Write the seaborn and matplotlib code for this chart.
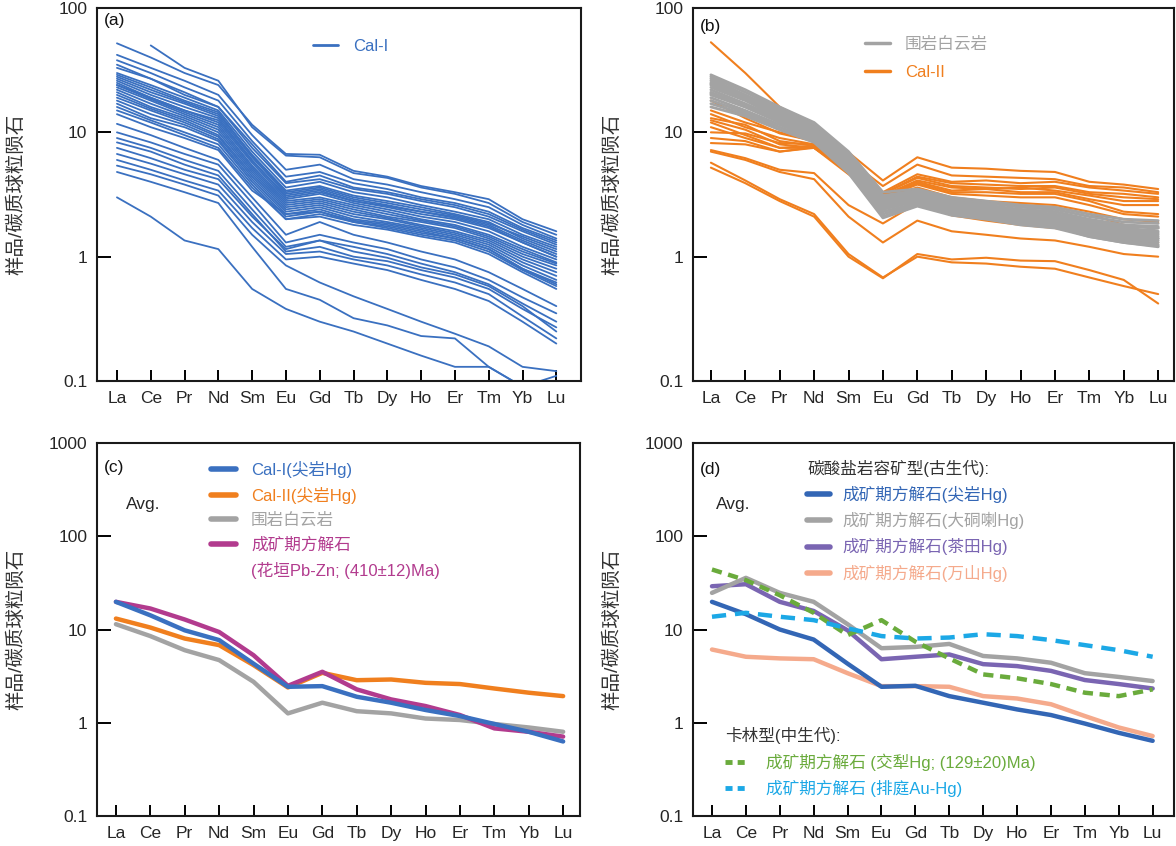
import numpy as np
import pandas as pd
import matplotlib
matplotlib.use("Agg")
import matplotlib.pyplot as plt
import seaborn as sns
from matplotlib.lines import Line2D

sns.set_style("ticks")
plt.rcParams["font.family"] = ["Liberation Sans", "Noto Sans CJK SC", "DejaVu Sans"]
plt.rcParams["axes.unicode_minus"] = False

# ---------------- data ----------------
ree = ["La", "Ce", "Pr", "Nd", "Sm", "Eu", "Gd", "Tb", "Dy", "Ho", "Er", "Tm", "Yb", "Lu"]
nan = np.nan

# (a) Cal-I individual samples
cal1_samples = [
    [52, 40, 30, 24, 11.5, 6.7, 6.6, 4.9, 4.4, 3.7, 3.3, 2.9, 2.0, 1.6],
    [nan, 50, 33, 26, 11, 6.5, 6.3, 4.7, 4.3, 3.6, 3.2, 2.7, 1.9, 1.5],
    [42, 33, 26, 20, 9.5, 5.0, 5.5, 4.2, 3.8, 3.3, 2.9, 2.5, 1.8, 1.4],
    [38, 30, 23, 18, 8.5, 4.4, 4.8, 3.9, 3.5, 3.0, 2.7, 2.3, 1.7, 1.35],
    [33, 27, 21, 16, 7.5, 3.9, 4.2, 3.5, 3.2, 2.8, 2.5, 2.1, 1.6, 1.25],
    [30, 24, 19, 15, 7.0, 3.6, 4.0, 3.3, 3.0, 2.6, 2.3, 2.0, 1.5, 1.2],
    [28, 22, 17.5, 14, 6.6, 3.4, 3.7, 3.1, 2.8, 2.5, 2.2, 1.9, 1.4, 1.1],
    [27, 21, 17, 13.5, 6.3, 3.2, 3.5, 2.9, 2.6, 2.3, 2.1, 1.8, 1.35, 1.05],
    [26, 20, 16, 13, 6.0, 3.0, 3.3, 2.8, 2.5, 2.2, 2.0, 1.7, 1.3, 1.0],
    [25, 19, 15, 12, 5.7, 2.9, 3.2, 2.7, 2.4, 2.1, 1.9, 1.6, 1.2, 0.95],
    [24, 18.5, 14.5, 11.5, 5.4, 2.8, 3.0, 2.6, 2.3, 2.0, 1.8, 1.5, 1.15, 0.9],
    [23, 18, 14, 11, 5.2, 2.7, 2.9, 2.5, 2.2, 1.95, 1.75, 1.45, 1.1, 0.88],
    [22, 17, 13.5, 10.5, 5.0, 2.6, 2.8, 2.4, 2.1, 1.9, 1.7, 1.4, 1.05, 0.85],
    [21, 16, 13, 10, 4.8, 2.5, 2.7, 2.3, 2.05, 1.8, 1.6, 1.35, 1.0, 0.8],
    [20, 15.5, 12.5, 9.5, 4.6, 2.4, 2.6, 2.2, 2.0, 1.75, 1.55, 1.3, 0.95, 0.75],
    [19, 15, 12, 9.2, 4.4, 2.3, 2.5, 2.1, 1.9, 1.7, 1.5, 1.25, 0.9, 0.7],
    [18, 14, 11.5, 8.8, 4.2, 2.2, 2.4, 2.0, 1.85, 1.65, 1.45, 1.2, 0.85, 0.65],
    [17, 13, 11, 8.5, 4.0, 2.1, 2.3, 1.95, 1.8, 1.6, 1.4, 1.15, 0.8, 0.6],
    [16, 12.5, 10, 8, 3.8, 2.0, 2.2, 1.9, 1.7, 1.5, 1.35, 1.1, 0.78, 0.58],
    [15, 12, 9.5, 7.5, 3.6, 2.0, 2.1, 1.8, 1.65, 1.45, 1.3, 1.05, 0.75, 0.55],
    [35, 27, 20, 16, 8.0, 4.0, 4.5, 3.6, 3.3, 2.9, 2.6, 2.2, 1.65, 1.3],
    [29, 23, 18, 14.5, 6.5, 3.3, 3.6, 3.0, 2.7, 2.4, 2.15, 1.85, 1.45, 1.15],
    [24, 19, 15, 12.5, 5.9, 3.1, 3.4, 2.8, 2.55, 2.3, 2.05, 1.75, 1.3, 1.0],
    [14, 11, 9, 7.2, 3.4, 2.2, 2.3, 1.9, 1.75, 1.55, 1.4, 1.15, 0.8, 0.62],
    [11.7, 9.5, 7.5, 6.0, 3.0, 1.5, 1.9, 1.5, 1.3, 1.1, 0.95, 0.75, 0.55, 0.4],
    [10, 8.3, 6.7, 5.5, 2.7, 1.3, 1.5, 1.3, 1.15, 0.95, 0.82, 0.65, 0.47, 0.35],
    [9.0, 7.5, 6.0, 4.9, 2.4, 1.2, 1.35, 1.2, 1.05, 0.88, 0.75, 0.6, 0.42, 0.3],
    [8.3, 7.0, 5.5, 4.5, 2.2, 1.1, 1.2, 1.0, 0.92, 0.78, 0.68, 0.55, 0.38, 0.27],
    [6.7, 5.6, 4.6, 3.8, 1.9, 1.05, 1.1, 0.95, 0.85, 0.72, 0.62, 0.5, 0.33, 0.22],
    [6.0, 5.0, 4.1, 3.4, 1.7, 0.95, 1.0, 0.88, 0.78, 0.65, 0.55, 0.44, 0.3, 0.2],
    [7.5, 6.2, 5.0, 4.2, 2.1, 1.15, 1.35, 1.1, 0.98, 0.82, 0.72, 0.58, 0.4, 0.25],
    [5.4, 4.6, 3.8, 3.1, 1.5, 0.85, 0.62, 0.48, 0.38, 0.3, 0.24, 0.19, 0.13, 0.12],
    [4.8, 4.0, 3.3, 2.7, 1.2, 0.55, 0.45, 0.32, 0.28, 0.23, 0.22, 0.13, 0.09, 0.11],
    [3.0, 2.1, 1.35, 1.15, 0.55, 0.38, 0.3, 0.25, 0.2, 0.16, 0.13, 0.13, 0.09, 0.1],
]

# (b) host dolomite samples
dolomite_samples = [
    [29, 22, 16, 12, 7, 3.3, 3.5, 3.0, 2.8, 2.6, 2.5, 2.2, 2.0, 1.95],
    [28, 21, 15.5, 11.5, 6.7, 3.1, 3.4, 2.9, 2.7, 2.5, 2.4, 2.1, 1.9, 1.85],
    [27, 20, 15, 11, 6.4, 3.0, 3.3, 2.8, 2.6, 2.4, 2.3, 2.0, 1.8, 1.75],
    [26, 19.5, 14.5, 10.8, 6.2, 2.9, 3.2, 2.7, 2.5, 2.3, 2.2, 1.9, 1.75, 1.7],
    [25, 19, 14, 10.5, 6.0, 2.8, 3.1, 2.65, 2.45, 2.25, 2.15, 1.85, 1.7, 1.6],
    [24, 18.5, 13.5, 10.2, 5.8, 2.7, 3.0, 2.6, 2.4, 2.2, 2.1, 1.8, 1.65, 1.55],
    [23, 18, 13, 10, 5.6, 2.6, 2.95, 2.5, 2.35, 2.15, 2.05, 1.75, 1.6, 1.5],
    [22, 17, 12.8, 9.8, 5.5, 2.5, 2.9, 2.45, 2.3, 2.1, 2.0, 1.7, 1.55, 1.45],
    [21, 16.5, 12.5, 9.5, 5.3, 2.45, 2.85, 2.4, 2.25, 2.05, 1.95, 1.65, 1.5, 1.4],
    [20, 16, 12, 9.2, 5.2, 2.4, 2.8, 2.35, 2.2, 2.0, 1.9, 1.6, 1.45, 1.35],
    [19, 15, 11.5, 9.0, 5.0, 2.3, 2.7, 2.3, 2.15, 1.95, 1.85, 1.55, 1.4, 1.3],
    [18, 14.5, 11, 8.8, 4.9, 2.2, 2.65, 2.25, 2.1, 1.9, 1.8, 1.5, 1.35, 1.25],
    [17, 14, 10.5, 8.5, 4.8, 2.1, 2.6, 2.2, 2.05, 1.85, 1.75, 1.45, 1.3, 1.22],
    [16, 13.5, 10.5, 8.3, 4.7, 2.05, 2.55, 2.15, 2.0, 1.8, 1.7, 1.45, 1.3, 1.2],
    [24.5, 19, 14.8, 11, 6.3, 2.75, 3.05, 2.7, 2.55, 2.35, 2.3, 1.95, 1.8, 1.4],
    [20.5, 16, 12.2, 9.6, 5.4, 2.55, 2.9, 2.5, 2.4, 2.2, 2.1, 1.75, 1.55, 1.7],
]

# (b) Cal-II samples
cal2_samples = [
    [53, 30, 16, 11.4, 6.9, 4.1, 6.3, 5.2, 5.1, 4.9, 4.8, 4.0, 3.8, 3.5],
    [18, 13, 9.8, 8.5, 6.0, 3.7, 5.5, 4.5, 4.4, 4.3, 4.2, 3.7, 3.6, 3.3],
    [15, 12, 10, 8.5, 5.5, 3.3, 4.6, 4.0, 4.1, 3.9, 4.0, 3.6, 3.4, 3.2],
    [14, 11, 9.0, 8.0, 5.2, 3.2, 4.4, 3.9, 3.8, 3.7, 3.7, 3.3, 3.2, 3.0],
    [13, 11.5, 8.5, 7.8, 5.0, 3.2, 4.3, 3.7, 3.6, 3.5, 3.6, 3.2, 3.0, 2.9],
    [12.5, 10.5, 8, 7.5, 4.9, 3.1, 4.1, 3.6, 3.5, 3.6, 3.4, 3.1, 2.8, 2.8],
    [12, 9.5, 7.5, 7.5, 4.8, 3.1, 4.0, 3.4, 3.5, 3.3, 3.3, 2.9, 2.6, 2.6],
    [11, 9, 7.5, 7.8, 4.8, 3.0, 3.9, 3.3, 3.3, 3.2, 3.2, 2.8, 2.3, 2.2],
    [10, 9.8, 8.2, 8.0, 4.7, 3.0, 3.8, 3.2, 3.1, 3.0, 3.0, 2.6, 2.2, 2.1],
    [9, 8.5, 7.0, 7.6, 4.8, 3.0, 3.6, 3.0, 2.8, 2.7, 2.6, 2.3, 2.0, 1.9],
    [8.2, 8.0, 7.0, 7.5, 4.6, 2.9, 3.5, 2.9, 2.7, 2.6, 2.5, 2.2, 1.8, 1.7],
    [7.2, 6.2, 5.0, 4.7, 2.6, 1.85, 2.7, 2.15, 1.95, 1.8, 1.7, 1.5, 1.35, 1.3],
    [7.0, 6.0, 4.8, 4.2, 2.1, 1.3, 1.95, 1.6, 1.5, 1.4, 1.35, 1.2, 1.05, 1.0],
    [5.7, 4.1, 2.9, 2.2, 1.05, 0.68, 1.0, 0.9, 0.88, 0.83, 0.8, 0.68, 0.58, 0.50],
    [5.2, 3.9, 2.8, 2.1, 1.0, 0.67, 1.05, 0.95, 0.98, 0.93, 0.92, 0.78, 0.65, 0.42],
]

# (c) averages
avg_cal1 = [19.8, 14.2, 9.8, 7.7, 4.3, 2.43, 2.47, 1.9, 1.64, 1.37, 1.18, 0.97, 0.80, 0.63]
avg_cal2 = [13.1, 10.5, 8.0, 6.8, 4.15, 2.39, 3.43, 2.86, 2.91, 2.68, 2.6, 2.33, 2.1, 1.93]
avg_dolomite = [11.4, 8.5, 6.0, 4.7, 2.75, 1.26, 1.64, 1.33, 1.26, 1.11, 1.07, 0.97, 0.89, 0.80]
avg_huayuan = [19.8, 16.8, 12.8, 9.4, 5.3, 2.49, 3.52, 2.28, 1.78, 1.51, 1.21, 0.87, 0.80, 0.71]

# (d) averages
d_jianyan = [19.8, 14.6, 10.0, 7.8, 4.3, 2.43, 2.49, 1.93, 1.64, 1.39, 1.21, 0.98, 0.78, 0.64]
d_dadongla = [24.7, 35.8, 24.7, 19.8, 11.4, 6.3, 6.5, 7.0, 5.2, 4.9, 4.4, 3.4, 3.1, 2.8]
d_chatian = [29.1, 30.6, 19.8, 15.8, 9.8, 4.8, 5.1, 5.4, 4.25, 4.05, 3.6, 2.87, 2.6, 2.33]
d_wanshan = [6.1, 5.1, 4.9, 4.8, 3.4, 2.47, 2.47, 2.43, 1.93, 1.82, 1.58, 1.18, 0.89, 0.72]
d_jiaoli = [44, 33.8, 23.3, 15.1, 8.7, 12.6, 7.4, 4.9, 3.3, 3.0, 2.6, 2.1, 1.93, 2.28]
d_paiting = [13.7, 15.1, 13.7, 12.6, 10.3, 8.5, 8.0, 8.2, 8.9, 8.5, 7.7, 6.8, 6.0, 5.1]

# ---------------- styling ----------------
BLUE = "#3a70c0"
ORANGE = "#f07f1e"
GREY = "#a3a3a3"
MAGENTA = "#b23b8e"
DBLUE = "#3366b5"
PURPLE = "#7a65b2"
SALMON = "#f5aa8c"
GREEN = "#6aab3c"
CYAN = "#1ca8e6"

W, H = 1176, 846
fig = plt.figure(figsize=(W / 100, H / 100), dpi=100)


def frac(l, t, r, b):
    return [l / W, 1 - b / H, (r - l) / W, (b - t) / H]


ax_a = fig.add_axes(frac(97, 8, 581, 381))
ax_b = fig.add_axes(frac(693, 8, 1174, 381))
ax_c = fig.add_axes(frac(97, 443, 580, 816))
ax_d = fig.add_axes(frac(693, 443, 1174, 816))


def long_df(samples):
    rows = []
    for i, s in enumerate(samples):
        for j, v in enumerate(s):
            rows.append({"pos": j, "value": v, "sample": i})
    return pd.DataFrame(rows).dropna()


def one_df(vals):
    return pd.DataFrame({"pos": np.arange(len(ree)), "value": vals})


def style_axis(ax, xlim, ylim, yticks, ylabels, tag, tagpos):
    ax.set_yscale("log")
    ax.set_xlim(*xlim)
    ax.set_ylim(*ylim)
    ax.set_xticks(range(len(ree)))
    ax.set_xticklabels(ree)
    ax.set_yticks(yticks)
    ax.set_yticklabels(ylabels)
    ax.minorticks_off()
    ax.yaxis.set_minor_locator(matplotlib.ticker.NullLocator())
    ax.tick_params(axis="x", direction="in", length=8, width=1.4, labelsize=12.5, pad=7, color="black")
    ax.tick_params(axis="y", direction="in", length=10, width=1.4, labelsize=12.5, pad=7, color="black")
    for sp in ax.spines.values():
        sp.set_visible(True)
        sp.set_linewidth(1.5)
        sp.set_color("#1a1a1a")
    ax.set_xlabel("")
    ax.set_ylabel("样品/碳质球粒陨石", fontsize=14, color="#333333")
    ax.yaxis.set_label_coords(-0.148, 0.5)
    ax.text(tagpos[0], tagpos[1], tag, transform=ax.transAxes, fontsize=12.5,
            ha="left", va="center", color="#111111")


# ---- (a)
sns.lineplot(data=long_df(cal1_samples), x="pos", y="value", units="sample",
             estimator=None, sort=False, color=BLUE, linewidth=1.3, ax=ax_a, legend=False)
style_axis(ax_a, (-0.59, 13.73), (0.1, 100), [0.1, 1, 10, 100], ["0.1", "1", "10", "100"],
           "(a)", (0.015, 0.966))
leg = ax_a.legend(handles=[Line2D([], [], color=BLUE, lw=2, label="Cal-I")],
                  loc="upper left", bbox_to_anchor=(0.43, 0.94), frameon=False,
                  fontsize=12, handlelength=1.5, handletextpad=0.9, borderpad=0,
                  labelcolor="linecolor")

# ---- (b)
sns.lineplot(data=long_df(cal2_samples), x="pos", y="value", units="sample",
             estimator=None, sort=False, color=ORANGE, linewidth=1.5, ax=ax_b, legend=False)
sns.lineplot(data=long_df(dolomite_samples), x="pos", y="value", units="sample",
             estimator=None, sort=False, color=GREY, linewidth=2.0, ax=ax_b, legend=False)
style_axis(ax_b, (-0.52, 13.46), (0.1, 100), [0.1, 1, 10, 100], ["0.1", "1", "10", "100"],
           "(b)", (0.015, 0.95))
ax_b.legend(handles=[Line2D([], [], color=GREY, lw=2.5, label="围岩白云岩"),
                     Line2D([], [], color=ORANGE, lw=2.5, label="Cal-II")],
            loc="upper left", bbox_to_anchor=(0.34, 0.945), frameon=False,
            fontsize=12, handlelength=1.5, handletextpad=0.9, borderpad=0,
            labelspacing=0.75, labelcolor="linecolor")

# ---- (c)
for vals, col in [(avg_dolomite, GREY), (avg_cal2, ORANGE), (avg_huayuan, MAGENTA), (avg_cal1, BLUE)]:
    sns.lineplot(data=one_df(vals), x="pos", y="value", color=col, linewidth=3.2,
                 ax=ax_c, legend=False)
style_axis(ax_c, (-0.55, 13.49), (0.1, 1000), [0.1, 1, 10, 100, 1000],
           ["0.1", "1", "10", "100", "1000"], "(c)", (0.015, 0.935))
ax_c.text(0.06, 0.834, "Avg.", transform=ax_c.transAxes, fontsize=12.5, ha="left", va="center")
ax_c.legend(handles=[Line2D([], [], color=BLUE, lw=4, label="Cal-I(尖岩Hg)"),
                     Line2D([], [], color=ORANGE, lw=4, label="Cal-II(尖岩Hg)"),
                     Line2D([], [], color=GREY, lw=4, label="围岩白云岩"),
                     Line2D([], [], color=MAGENTA, lw=4, label="成矿期方解石"),
                     Line2D([], [], color=MAGENTA, lw=0, label="(花垣Pb-Zn; (410±12)Ma)")],
            loc="upper left", bbox_to_anchor=(0.219, 0.975), frameon=False,
            fontsize=12, handlelength=1.5, handletextpad=0.9, borderpad=0,
            labelspacing=0.55, labelcolor="linecolor")

# ---- (d)
d_series = [(d_wanshan, SALMON, None), (d_chatian, PURPLE, None), (d_dadongla, GREY, None),
            (d_jianyan, DBLUE, None), (d_jiaoli, GREEN, (2.3, 1.5)), (d_paiting, CYAN, (3.2, 2.0))]
for vals, col, dash in d_series:
    sns.lineplot(data=one_df(vals), x="pos", y="value", color=col, linewidth=3.2,
                 ax=ax_d, legend=False)
    if dash is not None:
        ax_d.lines[-1].set_dashes(dash)
style_axis(ax_d, (-0.56, 13.63), (0.1, 1000), [0.1, 1, 10, 100, 1000],
           ["0.1", "1", "10", "100", "1000"], "(d)", (0.015, 0.93))
ax_d.text(0.048, 0.834, "Avg.", transform=ax_d.transAxes, fontsize=12.5, ha="left", va="center")
leg1 = ax_d.legend(handles=[Line2D([], [], color=DBLUE, lw=4, label="成矿期方解石(尖岩Hg)"),
                            Line2D([], [], color=GREY, lw=4, label="成矿期方解石(大硐喇Hg)"),
                            Line2D([], [], color=PURPLE, lw=4, label="成矿期方解石(茶田Hg)"),
                            Line2D([], [], color=SALMON, lw=4, label="成矿期方解石(万山Hg)")],
                   title="碳酸盐岩容矿型(古生代):", title_fontsize=12, alignment="left",
                   loc="upper left", bbox_to_anchor=(0.22, 0.978), frameon=False,
                   fontsize=12, handlelength=1.4, handletextpad=0.7, borderpad=0,
                   labelspacing=0.55, labelcolor="linecolor")
leg1.get_title().set_color("#333333")
ax_d.add_artist(leg1)
leg2 = ax_d.legend(handles=[Line2D([], [], color=GREEN, lw=3.5, dashes=(1.45, 1.05),
                                   label="成矿期方解石 (交犁Hg; (129±20)Ma)"),
                            Line2D([], [], color=CYAN, lw=3.5, dashes=(1.45, 1.05),
                                   label="成矿期方解石 (排庭Au-Hg)")],
                   title="卡林型(中生代):", title_fontsize=12, alignment="left",
                   loc="upper left", bbox_to_anchor=(0.05, 0.26), frameon=False,
                   fontsize=12, handlelength=1.25, handletextpad=1.2, borderpad=0,
                   labelspacing=0.55, labelcolor="linecolor")
leg2.get_title().set_color("#333333")

fig.savefig("out.png", dpi=100)
